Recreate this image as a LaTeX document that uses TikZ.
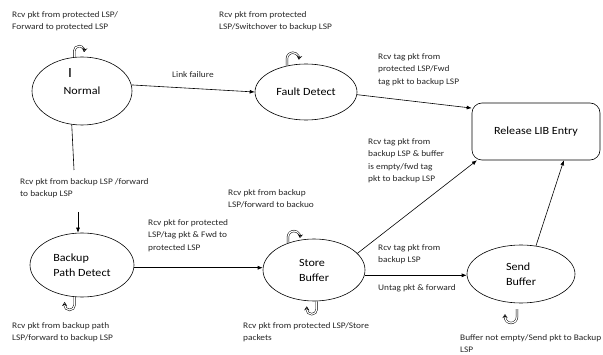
\documentclass[tikz,border=0pt]{standalone}
\usepackage{fontspec}
\setmainfont[FakeStretch=1.1]{Carlito}
\usetikzlibrary{shapes.geometric,arrows.meta,calc}
\begin{document}
\begin{tikzpicture}[x=1pt,y=1pt,
  st/.style={draw, ellipse, inner sep=0pt, align=left, font=\fontsize{11}{15}\selectfont, line width=0.6pt},
  lbl/.style={anchor=north west, inner sep=0pt, align=left, font=\fontsize{8.5}{12.5}\selectfont, text=black!85},
  conn/.style={line width=0.6pt, -{Latex[length=5pt,width=4pt]}},
  plainline/.style={line width=0.6pt},
  loopy/.style={line width=0.5pt, double, double distance=1.2pt, -{Stealth[length=4pt,width=5pt,open]}}]
\useasboundingbox (0,0) rectangle (603,354);
% states
\node[st, minimum width=100pt, minimum height=68pt] (normal) at (82,263) {Normal};
\node[inner sep=0pt, font=\fontsize{14}{14}\selectfont] (cursor) at (70,281) {I};
\node[st, minimum width=102pt, minimum height=56pt] (fault) at (306,262) {Fault Detect};
\node[draw, rounded corners=10pt, minimum width=128pt, minimum height=57pt, line width=0.6pt, font=\fontsize{11}{15}\selectfont] (release) at (536,222.5) {Release LIB Entry};
\node[st, minimum width=104pt, minimum height=64pt] (backup) at (82,89) {Backup\\Path Detect};
\node[st, minimum width=102pt, minimum height=62pt] (store) at (314,84) {Store\\Buffer};
\node[st, minimum width=108pt, minimum height=58pt] (send) at (521,80) {Send\\Buffer};
% labels
\node[lbl] (t1) at (12,343) {Rcv pkt from protected LSP/\\Forward to protected LSP};
\node[lbl] (t2) at (219,343) {Rcv pkt from protected\\LSP/Switchover to backup LSP};
\node[lbl] (t3) at (172,283) {Link failure};
\node[lbl] (t4) at (378,301) {Rcv tag pkt from\\protected LSP/Fwd\\tag pkt to backup LSP};
\node[lbl] (t5) at (368,216) {Rcv tag pkt from\\backup LSP \& buffer\\is empty/fwd tag\\pkt to backup LSP};
\node[lbl] (t6) at (20,176) {Rcv pkt from backup LSP /forward\\to backup LSP};
\node[lbl] (t7) at (228,165) {Rcv pkt from backup\\LSP/forward to backuo};
\node[lbl] (t8) at (148,135) {Rcv pkt for protected\\LSP/tag pkt \& Fwd to\\protected LSP};
\node[lbl] (t9) at (378,110) {Rcv tag pkt from\\backup LSP};
\node[lbl] (t10) at (378,70) {Untag pkt \& forward};
\node[lbl] (t11) at (12,32) {Rcv pkt from backup path\\LSP/forward to backup LSP};
\node[lbl] (t12) at (243,32) {Rcv pkt from protected LSP/Store\\packets};
\node[lbl] (t13) at (460,20) {Buffer not empty/Send pkt to Backup\\LSP};
% connectors
\draw[conn] (normal.7) -- (fault.west);
\draw[conn] (fault.-3) -- (release.160.6);
\draw[conn] (store.21) -- (release.206);
\draw[conn] (store.-6) -- (store.-6 -| send.west);
\draw[conn] (send.62) -- (release.-46.5);
\coordinate (gapA) at (74,184);
\coordinate (gapB) at (78,142);
\draw[plainline] (normal.253) -- (gapA);
\draw[conn] (gapB) -- (gapB |- backup.north);
\draw[conn] (backup.-3) -- (backup.-3 -| store.west);
% self loops
\draw[loopy] (normal.103) -- ++(0,6) arc[start angle=180,end angle=-10,radius=5];
\draw[loopy] (fault.126) -- ++(0,7) arc[start angle=180,end angle=-10,radius=6];
\draw[loopy] (store.134) -- ++(0,6) arc[start angle=180,end angle=-10,radius=6];
\draw[loopy] (backup.257) -- ++(0,-8) arc[start angle=0,end angle=-180,radius=5] -- ++(0,3);
\draw[loopy] (store.275.5) -- ++(0,-8) arc[start angle=0,end angle=-180,radius=5] -- ++(0,3);
\coordinate (sendloop) at (517,45);
\draw[loopy] (sendloop) -- ++(0,-8) arc[start angle=0,end angle=-180,radius=6] -- ++(0,3);
\end{tikzpicture}
\end{document}
